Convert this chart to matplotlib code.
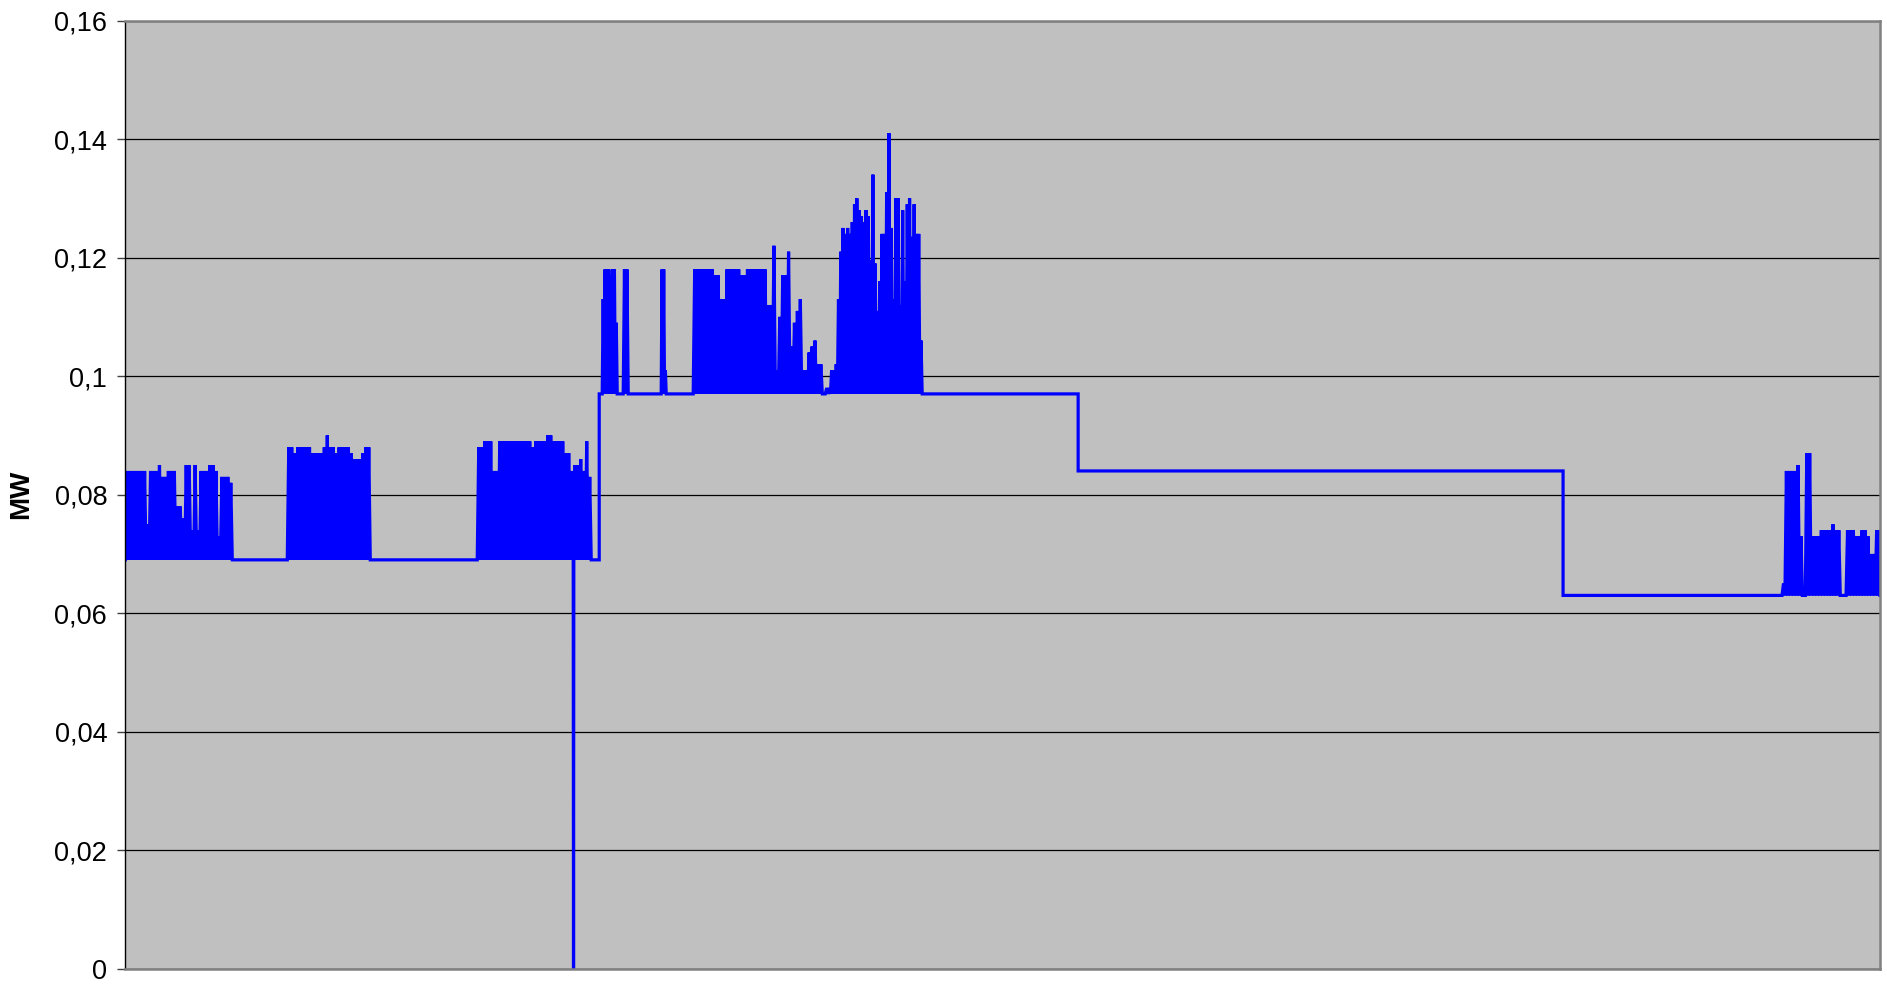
import numpy as np
import matplotlib
matplotlib.use("Agg")
import matplotlib.pyplot as plt
from matplotlib.ticker import FuncFormatter, MultipleLocator

# sample index runs 0..1755 across the plot
x_end = 1755

# resting levels (MW) and where they change
step_x = [0, 474, 953, 1438, x_end]
step_levels = [0.069, 0.097, 0.084, 0.063]

# bursts: (first sample, last sample, peak values); the signal drops back
# to the resting level between each peak
burst_a = [0.084, 0.084, 0.084, 0.084, 0.084, 0.084, 0.084, 0.075, 0.084, 0.084,
           0.084, 0.085, 0.083, 0.083, 0.084, 0.084, 0.084, 0.078, 0.078, 0.076,
           0.085, 0.085, 0.074, 0.085, 0.074, 0.084, 0.084, 0.084, 0.085, 0.085,
           0.084, 0.073, 0.083, 0.083, 0.083, 0.082]
burst_b = [0.088, 0.088, 0.087, 0.088, 0.088, 0.088, 0.088, 0.088, 0.087, 0.087,
           0.087, 0.087, 0.088, 0.090, 0.088, 0.088, 0.087, 0.088, 0.088, 0.088,
           0.088, 0.087, 0.086, 0.086, 0.086, 0.087, 0.088, 0.088]
burst_c = [0.088, 0.088, 0.089, 0.089, 0.089, 0.084, 0.084, 0.089, 0.089, 0.089,
           0.089, 0.089, 0.089, 0.089, 0.089, 0.089, 0.089, 0.089, 0.088, 0.089,
           0.089, 0.089, 0.089, 0.090, 0.090, 0.089, 0.089, 0.089, 0.089, 0.087,
           0.087, 0.084, 0.085, 0.085, 0.086, 0.084, 0.089, 0.083]
burst_d1 = [0.113, 0.118, 0.118, 0.118, 0.117, 0.118, 0.118, 0.109]
burst_d2 = [0.118, 0.118]
burst_d3 = [0.118, 0.118, 0.101]
burst_e = [0.118, 0.118, 0.118, 0.118, 0.118, 0.118, 0.118, 0.117, 0.117, 0.113,
           0.113, 0.118, 0.118, 0.118, 0.118, 0.118, 0.117, 0.117, 0.118, 0.118,
           0.118, 0.118, 0.118, 0.118, 0.118, 0.112, 0.112, 0.122, 0.101, 0.110,
           0.117, 0.117, 0.121, 0.105, 0.109, 0.111, 0.113, 0.101, 0.101, 0.104,
           0.105, 0.106, 0.102, 0.102, 0.097, 0.098]
burst_f = [0.098, 0.101, 0.101, 0.102, 0.113, 0.121, 0.125, 0.124, 0.125, 0.124,
           0.126, 0.129, 0.130, 0.128, 0.127, 0.126, 0.128, 0.127, 0.1195, 0.134,
           0.119, 0.111, 0.116, 0.124, 0.124, 0.131, 0.141, 0.125, 0.113, 0.130,
           0.130, 0.112, 0.128, 0.116, 0.129, 0.130, 0.1235, 0.129, 0.124, 0.124,
           0.106]
burst_g = [0.065, 0.084, 0.084, 0.084, 0.084, 0.085, 0.073, 0.063, 0.087, 0.087,
           0.073, 0.073, 0.073, 0.074, 0.074, 0.074, 0.074, 0.075, 0.074, 0.074,
           0.063, 0.063, 0.074, 0.074, 0.074, 0.073, 0.073, 0.074, 0.074, 0.073,
           0.070, 0.070, 0.074, 0.074]

bursts = [
    (0, 107, burst_a),
    (162, 245, burst_b),
    (352, 466, burst_c),
    (477, 492, burst_d1),
    (498, 503, burst_d2),
    (536, 541, burst_d3),
    (568, 703, burst_e),
    (703, 797, burst_f),
    (1657, 1756, burst_g),
]

# single outage down to zero
dropout_x = 448
dropout_value = 0.0


def level_at(x):
    for i in range(len(step_levels)):
        if step_x[i] <= x < step_x[i + 1]:
            return step_levels[i]
    return step_levels[-1]


pts = []
for i in range(1, len(step_x) - 1):
    pts.append((step_x[i], step_levels[i - 1], 0))
    pts.append((step_x[i], step_levels[i], 1))
pts.append((step_x[0], step_levels[0], 0))
pts.append((step_x[-1], step_levels[-1], 0))

for start, end, peaks in bursts:
    base = level_at(start)
    dx = (end - start) / len(peaks)
    for k, p in enumerate(peaks):
        pts.append((start + k * dx, base, 0))
        pts.append((start + (k + 0.5) * dx, p, 0))
    pts.append((end, base, 0))

base = level_at(dropout_x)
pts.append((dropout_x, base, 0))
pts.append((dropout_x + 0.3, dropout_value, 0))
pts.append((dropout_x + 0.6, base, 0))

pts.sort(key=lambda p: (p[0], p[2]))
xs = np.array([p[0] for p in pts])
ys = np.array([p[1] for p in pts])

plt.rcParams["font.family"] = ["Liberation Sans", "DejaVu Sans"]

fig = plt.figure(figsize=(18.87, 9.84), dpi=100)
ax = fig.add_axes([0.0664, 0.01545, 0.9299, 0.9637])
ax.set_facecolor("#C0C0C0")

ax.plot(xs, ys, color="#0000FF", linewidth=2.3, solid_joinstyle="miter")

ax.set_xlim(0, x_end)
ax.set_ylim(0, 0.16)
ax.yaxis.set_major_locator(MultipleLocator(0.02))
ax.yaxis.set_major_formatter(FuncFormatter(
    lambda v, _: f"{v:.2f}".rstrip("0").rstrip(".").replace(".", ",")))
ax.set_xticks([])

ax.set_axisbelow(True)
ax.grid(axis="y", color="black", linewidth=0.9)

ax.tick_params(axis="y", labelsize=19.5, length=6, width=1, pad=7,
               color="#404040", labelcolor="black")

ax.spines["left"].set_color("black")
ax.spines["left"].set_linewidth(1.0)
for side in ("top", "right", "bottom"):
    ax.spines[side].set_color("#808080")
    ax.spines[side].set_linewidth(1.8)

ax.set_ylabel("MW", fontsize=20, fontweight="bold")
ax.yaxis.set_label_coords(-0.052, 0.5)

fig.savefig("out.png", dpi=100)
plt.close(fig)
